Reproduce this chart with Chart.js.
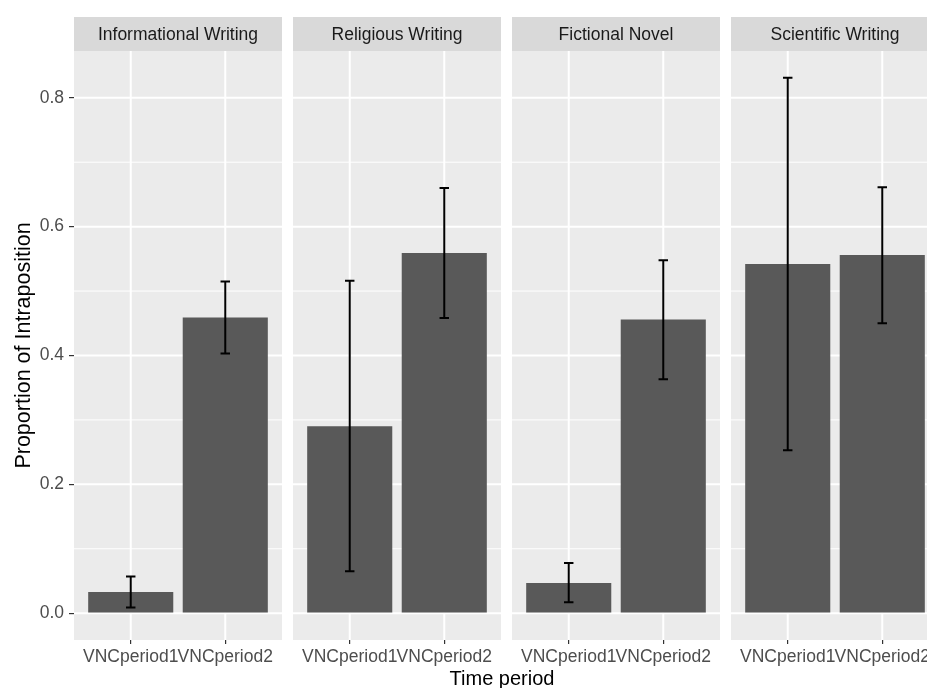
<!DOCTYPE html>
<html>
<head>
<meta charset="utf-8">
<script src="https://cdn.jsdelivr.net/npm/chart.js@4"></script>
<style>
  html, body { margin: 0; padding: 0; background: #fff; overflow: hidden; }
  #wrap { width: 927px; height: 688px; }
</style>
</head>
<body>
<div id="wrap"><canvas id="c" width="927" height="688"></canvas></div>
<script>
// facet names, periods and values
const panels = ['Informational Writing', 'Religious Writing', 'Fictional Novel', 'Scientific Writing'];
const periods = ['VNCperiod1', 'VNCperiod2'];
const period1 = [0.033, 0.290, 0.047, 0.542];
const period2 = [0.459, 0.559, 0.456, 0.556];
const low1 = [0.009, 0.065, 0.017, 0.253];
const high1 = [0.057, 0.516, 0.078, 0.831];
const low2 = [0.403, 0.458, 0.363, 0.450];
const high2 = [0.515, 0.660, 0.548, 0.661];
const yTicks = [0, 0.2, 0.4, 0.6, 0.8];
const yMinor = [0.1, 0.3, 0.5, 0.7];

// each facet is 2.2 x-units wide (0.6 expansion each side), small gap between facets
const PANEL_W = 2.2;
const GAP = 11 / 208 * PANEL_W;
const STEP = PANEL_W + GAP;
const X_MIN = 0.4;
const X_MAX = 0.4 + (927 - 74) / 208 * PANEL_W; // right facet is cut off by the window

const panelStart = i => X_MIN + i * STEP;
const xCenters = [];
const barData = [];
panels.forEach((p, i) => {
  const off = i * STEP;
  xCenters.push(off + 1, off + 2);
  barData.push({ x: off + 1, y: period1[i] }, { x: off + 2, y: period2[i] });
});
const lows = [], highs = [];
panels.forEach((p, i) => { lows.push(low1[i], low2[i]); highs.push(high1[i], high2[i]); });

Chart.defaults.font.family = '"Liberation Sans", Arial, Helvetica, sans-serif';

const facetPlugin = {
  id: 'facets',
  beforeDatasetsDraw(chart) {
    const { ctx, chartArea: a, scales: { x, y } } = chart;
    ctx.save();
    panels.forEach((name, i) => {
      const l = x.getPixelForValue(panelStart(i));
      const r = x.getPixelForValue(panelStart(i) + PANEL_W);
      ctx.fillStyle = '#EBEBEB';
      ctx.fillRect(l, a.top, r - l, a.bottom - a.top);
      ctx.strokeStyle = '#FFFFFF';
      ctx.lineWidth = 1;
      yMinor.forEach(v => {
        const py = y.getPixelForValue(v);
        ctx.beginPath(); ctx.moveTo(l, py); ctx.lineTo(r, py); ctx.stroke();
      });
      ctx.lineWidth = 2;
      yTicks.forEach(v => {
        const py = y.getPixelForValue(v);
        ctx.beginPath(); ctx.moveTo(l, py); ctx.lineTo(r, py); ctx.stroke();
      });
      [1, 2].forEach(k => {
        const px = x.getPixelForValue(i * STEP + k);
        ctx.beginPath(); ctx.moveTo(px, a.top); ctx.lineTo(px, a.bottom); ctx.stroke();
      });
      // strip
      ctx.fillStyle = '#D9D9D9';
      ctx.fillRect(l, 17, r - l, a.top - 17);
      ctx.fillStyle = '#1A1A1A';
      ctx.font = '17.5px "Liberation Sans", Arial, sans-serif';
      ctx.textAlign = 'center';
      ctx.textBaseline = 'middle';
      ctx.fillText(name, (l + r) / 2, (17 + a.top) / 2 + 1);
    });
    ctx.restore();
  },
  afterDatasetsDraw(chart) {
    const { ctx, scales: { x, y } } = chart;
    ctx.save();
    ctx.strokeStyle = '#000';
    ctx.lineWidth = 2;
    xCenters.forEach((cx, i) => {
      const px = x.getPixelForValue(cx);
      const hw = x.getPixelForValue(cx + 0.05) - px;
      const yl = y.getPixelForValue(lows[i]);
      const yh = y.getPixelForValue(highs[i]);
      ctx.beginPath();
      ctx.moveTo(px, yl); ctx.lineTo(px, yh);
      ctx.moveTo(px - hw, yl); ctx.lineTo(px + hw, yl);
      ctx.moveTo(px - hw, yh); ctx.lineTo(px + hw, yh);
      ctx.stroke();
    });
    ctx.restore();
  },
  afterDraw(chart) {
    const { ctx, chartArea: a } = chart;
    ctx.save();
    ctx.fillStyle = '#000';
    ctx.font = '20px "Liberation Sans", Arial, sans-serif';
    ctx.textAlign = 'center';
    ctx.textBaseline = 'alphabetic';
    ctx.fillText('Time period', 502, 685);
    ctx.translate(30, (a.top + a.bottom) / 2);
    ctx.rotate(-Math.PI / 2);
    ctx.font = '21.5px "Liberation Sans", Arial, sans-serif';
    ctx.fillText('Proportion of Intraposition', 0, 0);
    ctx.restore();
  }
};

new Chart(document.getElementById('c'), {
  type: 'bar',
  data: {
    datasets: [{
      data: barData,
      backgroundColor: '#595959',
      borderWidth: 0,
      barPercentage: 0.9,
      categoryPercentage: 1.0
    }]
  },
  options: {
    responsive: false,
    animation: false,
    layout: { padding: { top: 51, right: 0, left: 0, bottom: 0 } },
    plugins: { legend: { display: false }, tooltip: { enabled: false } },
    scales: {
      x: {
        type: 'linear',
        offset: false,
        min: X_MIN,
        max: X_MAX,
        afterBuildTicks: s => { s.ticks = xCenters.map(v => ({ value: v })); },
        afterFit: s => { s.height = 48; s.paddingLeft = 0; s.paddingRight = 0; },
        grid: { display: true, offset: false, drawOnChartArea: false, color: '#333333', tickLength: 4, lineWidth: 1.2 },
        border: { display: false },
        ticks: {
          autoSkip: false,
          maxRotation: 0,
          padding: 3,
          color: '#4D4D4D',
          font: { size: 17.5 },
          callback: (v, i) => periods[i % 2]
        }
      },
      y: {
        min: -0.0416,
        max: 0.8726,
        afterBuildTicks: s => { s.ticks = yTicks.map(v => ({ value: v })); },
        afterFit: s => { s.width = 74; s.paddingTop = 0; s.paddingBottom = 0; },
        grid: { display: true, drawOnChartArea: false, color: '#333333', tickLength: 5, lineWidth: 1.2 },
        border: { display: false },
        ticks: {
          padding: 5,
          color: '#4D4D4D',
          font: { size: 17.5 },
          callback: v => v.toFixed(1)
        }
      }
    }
  },
  plugins: [facetPlugin]
});
</script>
</body>
</html>
